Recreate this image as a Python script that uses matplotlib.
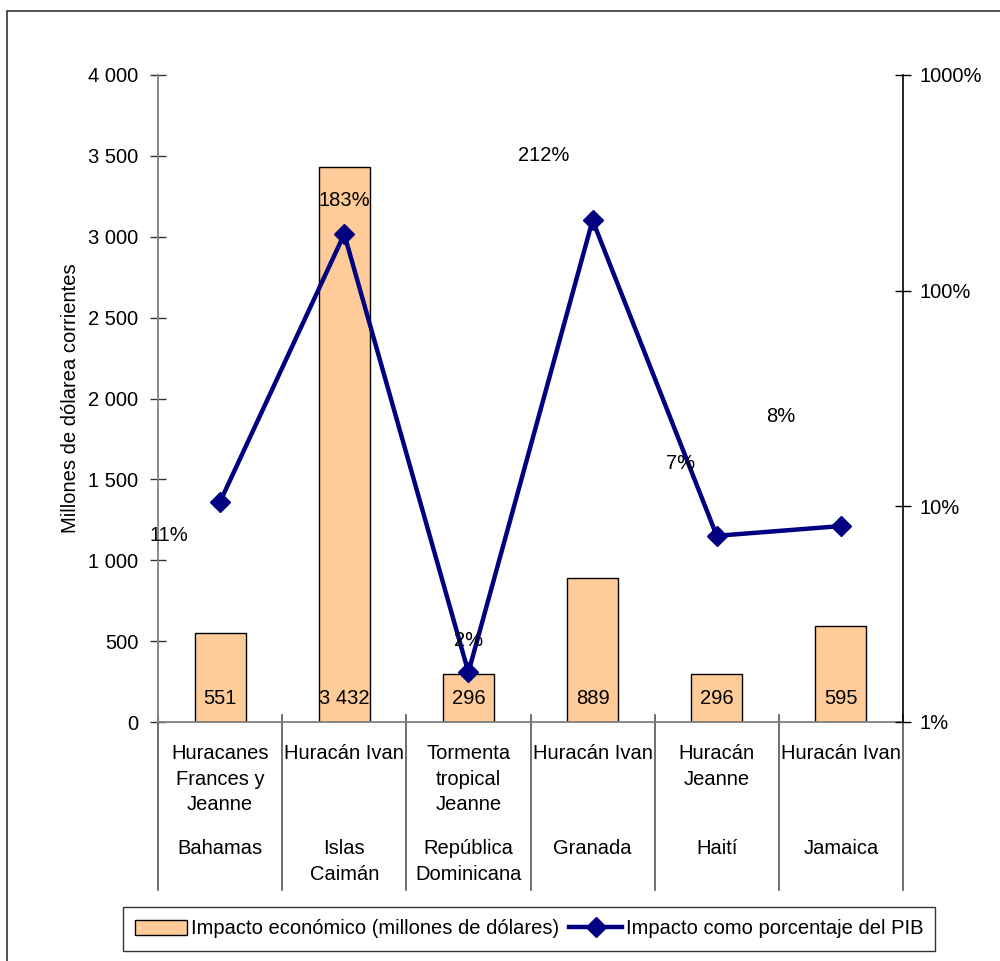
import matplotlib

matplotlib.use("Agg")
import matplotlib.pyplot as plt
from matplotlib.patches import Rectangle
from matplotlib.ticker import FixedLocator, FixedFormatter

plt.rcParams["font.family"] = ["Liberation Sans", "DejaVu Sans"]

countries = ["Bahamas", "Islas\nCaimán", "República\nDominicana", "Granada", "Haití", "Jamaica"]
events = ["Huracanes\nFrances y\nJeanne", "Huracán Ivan", "Tormenta\ntropical\nJeanne",
          "Huracán Ivan", "Huracán\nJeanne", "Huracán Ivan"]
impact_musd = [551, 3432, 296, 889, 296, 595]
impact_labels = ["551", "3 432", "296", "889", "296", "595"]
impact_pct = [10.5, 183, 1.7, 212, 7.3, 8.1]
pct_labels = ["11%", "183%", "2%", "212%", "7%", "8%"]
left_ticks = [0, 500, 1000, 1500, 2000, 2500, 3000, 3500, 4000]
left_tick_labels = ["0", "500", "1 000", "1 500", "2 000", "2 500", "3 000", "3 500", "4 000"]
right_ticks = [1, 10, 100, 1000]
right_tick_labels = ["1%", "10%", "100%", "1000%"]

# label offsets in points (Excel placed them oddly)
pct_offsets = [(-37, -24), (0, 24), (0, 23), (-35, 47), (-26, 52), (-43, 79)]

FS = 14.5
BAR_COLOR = "#FFCC99"
LINE_COLOR = "#000080"

fig = plt.figure(figsize=(10.0, 9.61), dpi=100)
fig.patches.append(Rectangle((0.007, -0.1), 1.2, 0.1 + 1 - 11 / 961, transform=fig.transFigure,
                             fill=False, edgecolor="#333333", linewidth=1.2))

ax = fig.add_axes([0.158, 1 - 722 / 961, 0.745, 647 / 961])
x = list(range(len(countries)))
bars = ax.bar(x, impact_musd, width=0.41, color=BAR_COLOR, edgecolor="black", linewidth=1.0,
              label="Impacto económico (millones de dólares)", zorder=2)
ax.set_xlim(-0.5, len(countries) - 0.5)
ax.set_ylim(0, 4000)
ax.yaxis.set_major_locator(FixedLocator(left_ticks))
ax.yaxis.set_major_formatter(FixedFormatter(left_tick_labels))
ax.tick_params(axis="y", direction="inout", length=12, width=1, labelsize=FS, pad=8, color="#333333")
ax.set_xticks([])
ax.set_ylabel("Millones de dólarea corrientes", fontsize=FS, labelpad=6)
for side in ("top", "right"):
    ax.spines[side].set_visible(False)
ax.spines["left"].set_color("#808080")
ax.spines["bottom"].set_color("#808080")
ax.spines["left"].set_linewidth(1.3)
ax.spines["bottom"].set_linewidth(1.3)

for bar, text in zip(bars, impact_labels):
    ax.text(bar.get_x() + bar.get_width() / 2, 0.037, text, transform=ax.get_xaxis_transform(),
            ha="center", va="center", fontsize=FS, zorder=5)

# category axis: event labels, country labels, separators
xt = ax.get_xaxis_transform()
for i, (ev, co) in enumerate(zip(events, countries)):
    ax.text(i, -0.034, ev, transform=xt, ha="center", va="top", fontsize=FS, linespacing=1.45)
    ax.text(i, -0.181, co, transform=xt, ha="center", va="top", fontsize=FS, linespacing=1.45)
for b in [i - 0.5 for i in range(len(countries) + 1)]:
    ax.plot([b, b], [0.011, -0.26], transform=xt, color="#555555", linewidth=1.2, clip_on=False)

ax2 = ax.twinx()
ax2.set_yscale("log")
ax2.set_ylim(1, 1000)
ax2.yaxis.set_major_locator(FixedLocator(right_ticks))
ax2.yaxis.set_major_formatter(FixedFormatter(right_tick_labels))
ax2.yaxis.set_minor_locator(FixedLocator([]))
ax2.tick_params(axis="y", direction="inout", length=12, width=1, labelsize=FS, pad=6)
for side in ("top", "left", "bottom"):
    ax2.spines[side].set_visible(False)
ax2.spines["right"].set_linewidth(1.2)
line, = ax2.plot(x, impact_pct, color=LINE_COLOR, linewidth=3.2, marker="D", markersize=10,
                 label="Impacto como porcentaje del PIB", zorder=3)
for xi, val, txt, off in zip(x, impact_pct, pct_labels, pct_offsets):
    ax2.annotate(txt, (xi, val), xytext=off, textcoords="offset points", ha="center", va="center",
                 fontsize=FS)

leg = fig.legend(handles=[bars, line], loc="center", bbox_to_anchor=(0.529, 1 - 929 / 961), ncol=2,
                 frameon=True, fancybox=False, edgecolor="black", handlelength=2.6, handletextpad=0.2,
                 columnspacing=0.5, borderpad=0.6,
                 prop={"family": ["Liberation Sans Narrow", "Liberation Sans"], "size": 14.5})
leg.get_frame().set_linewidth(1.0)

fig.savefig("out.png", dpi=100, facecolor="white")
